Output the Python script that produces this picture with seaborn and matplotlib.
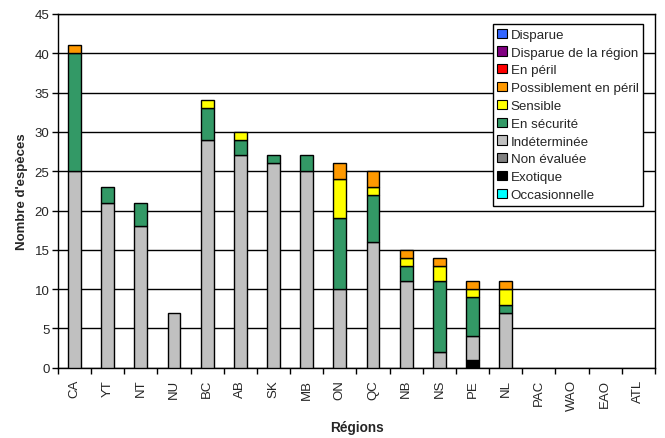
import numpy as np
import pandas as pd
import matplotlib
matplotlib.use("Agg")
import matplotlib.pyplot as plt
import seaborn as sns

regions = ["CA", "YT", "NT", "NU", "BC", "AB", "SK", "MB", "ON", "QC",
           "NB", "NS", "PE", "NL", "PAC", "WAO", "EAO", "ATL"]

# stack order, bottom to top
occasionnelle = [0, 0, 0, 0, 0, 0, 0, 0, 0, 0, 0, 0, 0, 0, 0, 0, 0, 0]
exotique = [0, 0, 0, 0, 0, 0, 0, 0, 0, 0, 0, 0, 1, 0, 0, 0, 0, 0]
non_evaluee = [0, 0, 0, 0, 0, 0, 0, 0, 0, 0, 0, 0, 0, 0, 0, 0, 0, 0]
indeterminee = [25, 21, 18, 7, 29, 27, 26, 25, 10, 16, 11, 2, 3, 7, 0, 0, 0, 0]
en_securite = [15, 2, 3, 0, 4, 2, 1, 2, 9, 6, 2, 9, 5, 1, 0, 0, 0, 0]
sensible = [0, 0, 0, 0, 1, 1, 0, 0, 5, 1, 1, 2, 1, 2, 0, 0, 0, 0]
possiblement = [1, 0, 0, 0, 0, 0, 0, 0, 2, 2, 1, 1, 1, 1, 0, 0, 0, 0]
en_peril = [0] * 18
disparue_region = [0] * 18
disparue = [0] * 18

series = [
    ("Occasionnelle", occasionnelle, "#00FFFF"),
    ("Exotique", exotique, "#000000"),
    ("Non évaluée", non_evaluee, "#808080"),
    ("Indéterminée", indeterminee, "#C0C0C0"),
    ("En sécurité", en_securite, "#339966"),
    ("Sensible", sensible, "#FFFF00"),
    ("Possiblement en péril", possiblement, "#FF9900"),
    ("En péril", en_peril, "#FF0000"),
    ("Disparue de la région", disparue_region, "#800080"),
    ("Disparue", disparue, "#3366FF"),
]

sns.set_style("white")
plt.rcParams["font.family"] = ["Liberation Sans", "DejaVu Sans"]

fig, ax = plt.subplots(figsize=(6.65, 4.39), dpi=100)
fig.subplots_adjust(left=0.087, right=0.985, top=0.966, bottom=0.16)

bottom = np.zeros(len(regions))
handles = {}
for name, vals, color in series:
    df = pd.DataFrame({"region": regions, "n": vals})
    sns.barplot(data=df, x="region", y="n", order=regions, color=color,
                bottom=bottom, width=0.39, edgecolor="black", linewidth=1,
                saturation=1, errorbar=None, ax=ax, zorder=3)
    handles[name] = plt.Rectangle((0, 0), 1, 1, facecolor=color,
                                  edgecolor="black", linewidth=0.8)
    bottom = bottom + np.array(vals)

# empty segments should not leave an outline behind
for p in ax.patches:
    if p.get_height() == 0:
        p.set_visible(False)

ax.set_ylim(0, 45)
ax.set_xlim(-0.5, len(regions) - 0.5)
ax.set_yticks(range(0, 46, 5))
ax.yaxis.grid(True, color="black", linewidth=1, zorder=0)
ax.set_axisbelow(True)
for s in ax.spines.values():
    s.set_color("black")
    s.set_linewidth(1)

ax.tick_params(axis="y", direction="out", length=4, width=1, color="black",
               labelsize=9.5, pad=2, left=True)
ax.tick_params(axis="x", which="major", length=0, labelsize=9.5, pad=8,
               rotation=90)
ax.set_xticks(np.arange(len(regions) + 1) - 0.5, minor=True)
ax.tick_params(axis="x", which="minor", direction="out", length=4, width=1,
               color="black", bottom=True)

ax.set_xlabel("Régions", fontsize=9.8, fontweight="bold", labelpad=7)
ax.set_ylabel("Nombre d'espèces", fontsize=9.5, fontweight="bold", labelpad=5)

order = ["Disparue", "Disparue de la région", "En péril",
         "Possiblement en péril", "Sensible", "En sécurité", "Indéterminée",
         "Non évaluée", "Exotique", "Occasionnelle"]
leg = ax.legend([handles[k] for k in order], order, loc="upper right",
                bbox_to_anchor=(0.98, 0.972), fontsize=9.6, frameon=True,
                fancybox=False, edgecolor="black", framealpha=1,
                handlelength=0.7, handleheight=0.7, handletextpad=0.3,
                labelspacing=0.41, borderpad=0.35, borderaxespad=0)
leg.get_frame().set_linewidth(1)
leg.set_zorder(5)

fig.savefig("out.png", dpi=100)
